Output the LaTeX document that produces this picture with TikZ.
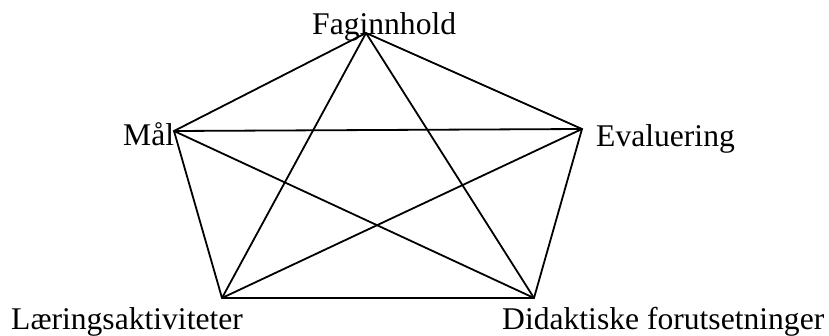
\documentclass[tikz,border=0pt]{standalone}
\usepackage{fontspec}
\setmainfont{Liberation Serif}
\begin{document}
\begin{tikzpicture}[x=1pt,y=-1pt,
  lbl/.style={inner sep=0pt,font=\fontsize{31.6}{38}\selectfont},
  edge/.style={line width=1.8pt,line join=miter}]
\useasboundingbox (0,0) rectangle (829,336);
\coordinate (F) at (366,33);
\coordinate (M) at (174,131);
\coordinate (E) at (582,129);
\coordinate (L) at (222,298);
\coordinate (D) at (534,298);
\node[lbl,anchor=base west] (tF) at (312,35) {Faginnhold};
\node[lbl,anchor=base west] (tM) at (123,146) {Mål};
\node[lbl,anchor=base west] (tE) at (596,147) {Evaluering};
\node[lbl,anchor=base west] (tL) at (11,329) {Læringsaktiviteter};
\node[lbl,anchor=base west] (tD) at (502,329) {Didaktiske forutsetninger};
\draw[edge] (F) -- (M) -- (L) -- (D) -- (E) -- cycle;
\draw[edge] (F) -- (L);
\draw[edge] (F) -- (D);
\draw[edge] (M) -- (E);
\draw[edge] (M) -- (D);
\draw[edge] (L) -- (E);
\end{tikzpicture}
\end{document}
